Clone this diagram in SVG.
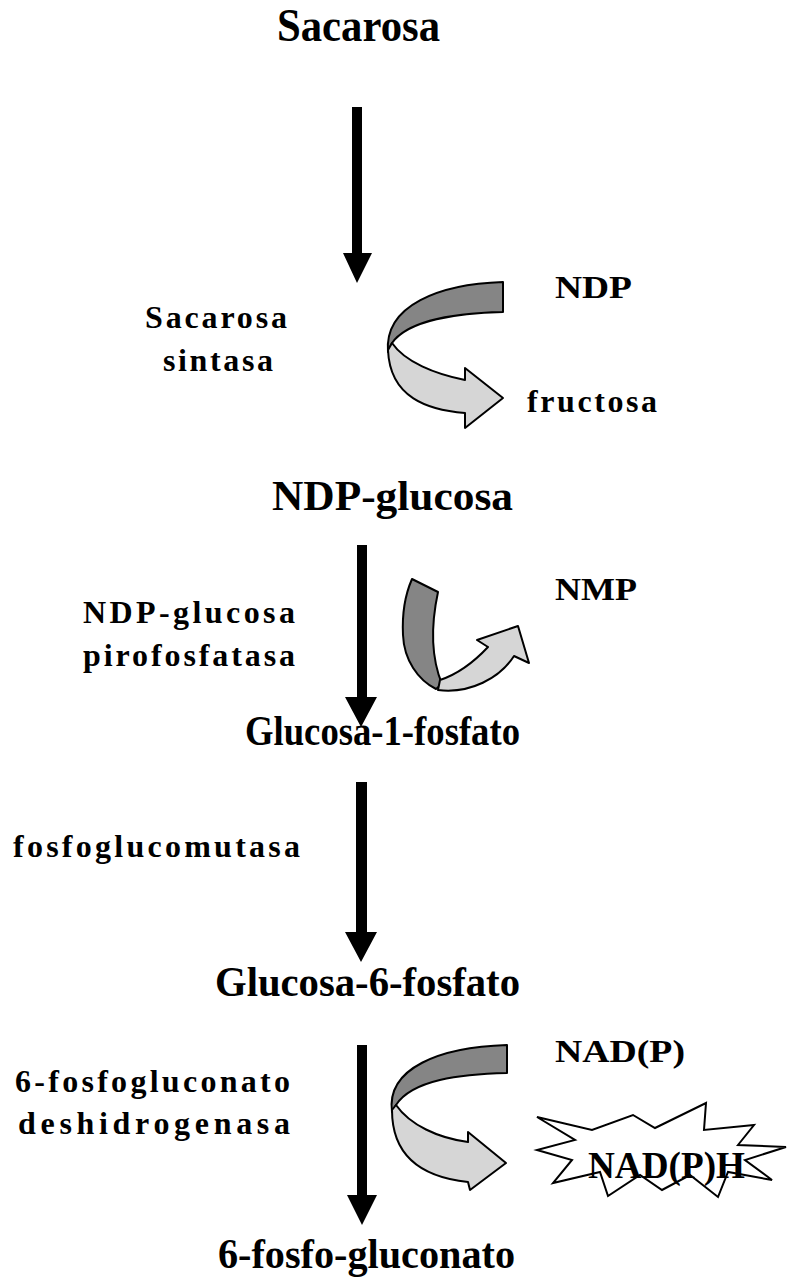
<svg xmlns="http://www.w3.org/2000/svg" width="787" height="1288" viewBox="0 0 787 1288">
<style>
text{font-family:"Liberation Serif","Times New Roman",serif;font-weight:bold;fill:#000}
.big{font-size:42px}
.lab{font-size:32px}
.dark{fill:#858585;stroke:#000;stroke-width:2;stroke-linejoin:round}
.light{fill:#d6d6d6;stroke:#000;stroke-width:2;stroke-linejoin:round}
.shaft{fill:#000}
.star{fill:#fff;stroke:#000;stroke-width:2;stroke-linejoin:miter}
</style>
<g id="connectors">
<path class="shaft" d="M352,107 H362 V253 H372 L357,283 L343,253 H352 Z"/>
<path class="shaft" d="M357,545 H367 V697 H377 L361,727 L345,697 H357 Z"/>
<path class="shaft" d="M356,782 H367 V932 H377 L361,962 L345,932 H356 Z"/>
<path class="shaft" d="M357,1045 H367 V1195 H377 L362,1225 L347,1195 H357 Z"/>
</g>
<g id="arrow-sintasa">
<path class="dark" d="M503,282 L503,312 C458,313 408,320 392,343 L388,352 C384,305 440,284 503,282 Z"/>
<path class="light" d="M392,343 C405,362 435,374 465,380 L465,368 L503,398 L465,428 L465,413 C428,410 390,398 388,350 Z"/>
</g>
<g id="arrow-pirofosfatasa">
<path class="dark" d="M412,579 L438,592 C432,620 430,655 442,684 L436,689 C418,680 404,660 403,635 C402,615 405,595 412,579 Z"/>
<path class="light" d="M440,680 C458,674 474,662 488,647 L477,640 L518,626 L529,663 L514,656 C500,678 470,694 438,690 Z"/>
</g>
<g id="arrow-deshidrogenasa">
<path class="dark" d="M507,1045 L507,1073 C460,1074 412,1080 396,1105 L392,1112 C386,1068 440,1047 507,1045 Z"/>
<path class="light" d="M396,1105 C410,1125 438,1138 468,1142 L468,1132 L506,1163 L470,1190 L468,1182 C430,1178 392,1162 392,1110 Z"/>
</g>
<g id="nadph">
<polygon class="star" points="537,1117 592,1130 633,1115 655,1128 706,1103 704,1130 754,1125 738,1145 786,1147 745,1160 772,1180 728,1172 718,1197 690,1175 662,1190 640,1175 608,1196 600,1172 553,1183 572,1160 537,1150 575,1140"/>
<text class="big" x="588" y="1178" textLength="157" lengthAdjust="spacingAndGlyphs" style="font-size:37px">NAD(P)H</text>
</g>
<g id="sacarosa"><text class="big" x="277" y="41" textLength="163" lengthAdjust="spacingAndGlyphs" style="font-size:46px">Sacarosa</text></g>
<g id="sacarosa-sintasa">
<text class="lab" x="145" y="328" textLength="142" lengthAdjust="spacing">Sacarosa</text>
<text class="lab" x="163" y="371" textLength="110" lengthAdjust="spacing">sintasa</text>
</g>
<g id="ndp"><text class="lab" x="555" y="298" textLength="77" lengthAdjust="spacingAndGlyphs">NDP</text></g>
<g id="fructosa"><text class="lab" x="527" y="412" textLength="130" lengthAdjust="spacing">fructosa</text></g>
<g id="ndp-glucosa"><text class="big" x="272" y="510" textLength="241" lengthAdjust="spacingAndGlyphs">NDP-glucosa</text></g>
<g id="ndp-glucosa-pirofosfatasa">
<text class="lab" x="83" y="623" textLength="212" lengthAdjust="spacing">NDP-glucosa</text>
<text class="lab" x="83" y="666" textLength="212" lengthAdjust="spacing">pirofosfatasa</text>
</g>
<g id="nmp"><text class="lab" x="555" y="600" textLength="82" lengthAdjust="spacingAndGlyphs">NMP</text></g>
<g id="glucosa-1-fosfato"><text class="big" x="245" y="745" textLength="275" lengthAdjust="spacingAndGlyphs">Glucosa-1-fosfato</text></g>
<g id="fosfoglucomutasa"><text class="lab" x="13" y="857" textLength="287" lengthAdjust="spacing">fosfoglucomutasa</text></g>
<g id="glucosa-6-fosfato"><text class="big" x="215" y="996" textLength="305" lengthAdjust="spacingAndGlyphs">Glucosa-6-fosfato</text></g>
<g id="fosfogluconato-deshidrogenasa">
<text class="lab" x="15" y="1092" textLength="275" lengthAdjust="spacing">6-fosfogluconato</text>
<text class="lab" x="18" y="1134" textLength="272" lengthAdjust="spacing">deshidrogenasa</text>
</g>
<g id="nadp"><text class="lab" x="555" y="1062" textLength="130" lengthAdjust="spacingAndGlyphs">NAD(P)</text></g>
<g id="fosfo-gluconato"><text class="big" x="218" y="1268" textLength="297" lengthAdjust="spacingAndGlyphs">6-fosfo-gluconato</text></g>
</svg>
